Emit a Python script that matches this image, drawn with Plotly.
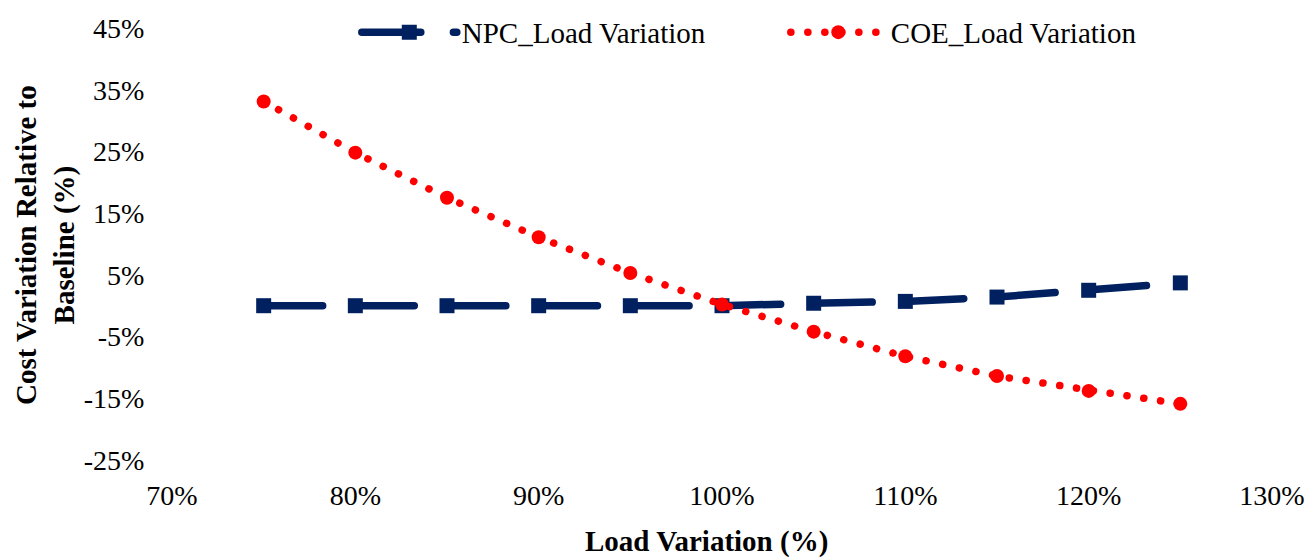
import plotly.graph_objects as go

# Load variation steps (% of baseline load)
load_pct = [75, 80, 85, 90, 95, 100, 105, 110, 115, 120, 125]

# Cost change relative to baseline (%)
npc_change = [0.0, 0.0, 0.0, 0.0, 0.0, 0.0, 0.4, 0.7, 1.4, 2.5, 3.7]
coe_change = [33.1, 24.8, 17.5, 11.1, 5.3, 0.2, -4.2, -8.2, -11.4, -13.8, -15.9]

y_ticks = [-25, -15, -5, 5, 15, 25, 35, 45]
x_ticks = [70, 80, 90, 100, 110, 120, 130]

FONT = "Liberation Serif"
NAVY = "#002060"
RED = "#FF0000"

fig = go.Figure()

fig.add_trace(go.Scatter(
    x=load_pct, y=npc_change, name="NPC_Load Variation",
    mode="lines+markers",
    line=dict(color=NAVY, width=7.5, dash="59px,32.6px"),
    marker=dict(symbol="square", size=15, color=NAVY),
))

fig.add_trace(go.Scatter(
    x=load_pct, y=coe_change, name="COE_Load Variation",
    mode="lines+markers",
    line=dict(color=RED, width=7.5, dash="0.1px,16.9px"),
    marker=dict(symbol="circle", size=14, color=RED),
))

fig.update_layout(
    width=1308, height=560,
    margin=dict(l=172, r=36, t=28, b=100, autoexpand=False),
    paper_bgcolor="white", plot_bgcolor="white",
    font=dict(family=FONT, size=28, color="black"),
    showlegend=True,
    legend=dict(
        orientation="h", x=0.168, y=0.99, xanchor="left", yanchor="middle",
        font=dict(family=FONT, size=29, color="black"),
        bgcolor="rgba(0,0,0,0)", itemwidth=95,
        entrywidth=319, entrywidthmode="pixels",
    ),
    annotations=[
        dict(text="<b>Load Variation (%)</b>", xref="paper", yref="paper",
             x=(706 - 172) / 1100, y=-(541 - 460) / 432,
             xanchor="center", yanchor="middle", showarrow=False,
             font=dict(family=FONT, size=29, color="black")),
        dict(text="<b>Cost Variation Relative to<br>Baseline (%)</b>",
             xref="paper", yref="paper",
             x=-(172 - 45) / 1100, y=(460 - 245) / 432, textangle=-90,
             xanchor="center", yanchor="middle", showarrow=False,
             font=dict(family=FONT, size=29, color="black")),
    ],
)

fig.update_xaxes(
    range=[70, 130], tickvals=x_ticks, ticktext=[f"{v}%" for v in x_ticks],
    showgrid=False, zeroline=False, showline=False, automargin=False,
    ticks="outside", ticklen=10, tickcolor="rgba(0,0,0,0)",
    tickfont=dict(family=FONT, size=28, color="black"),
)

fig.update_yaxes(
    range=[-25, 45], tickvals=y_ticks, ticktext=[f"{v}%" for v in y_ticks],
    showgrid=False, zeroline=False, showline=False, automargin=False,
    ticks="outside", ticklen=21, tickcolor="rgba(0,0,0,0)",
    tickfont=dict(family=FONT, size=28, color="black"),
)

# Round line caps turn the dotted series into round dots and soften the dash ends
round_caps = (
    "var s=document.createElement('style');"
    "s.textContent='.js-line{stroke-linecap:round !important;}';"
    "document.head.appendChild(s);"
)

fig.write_html("out.html", post_script=round_caps)
